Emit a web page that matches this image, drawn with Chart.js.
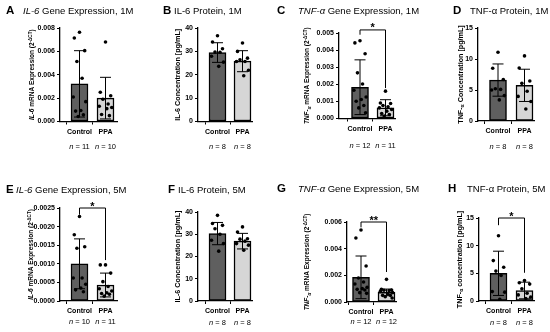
<!DOCTYPE html>
<html><head><meta charset="utf-8">
<script src="https://cdn.jsdelivr.net/npm/chart.js@4.4.1/dist/chart.umd.min.js"></script>
<style>
html,body{margin:0;padding:0;background:#fff;}
#wrap{position:relative;width:550px;height:332px;overflow:hidden;font-family:"Liberation Sans",Arial,sans-serif;color:#000;}
canvas{position:absolute;}
.L{position:absolute;font-weight:bold;font-size:11.5px;line-height:1;white-space:nowrap;}
.t{position:absolute;font-size:9.5px;line-height:1;white-space:nowrap;}
</style></head>
<body><div id="wrap">
<div class="L" style="left:6px;top:5px">A</div><div class="t" style="left:23px;top:6px"><i>IL-6</i> Gene Expression, 1M</div>
<div class="L" style="left:163px;top:5px">B</div><div class="t" style="left:174px;top:6px">IL-6 Protein, 1M</div>
<div class="L" style="left:277px;top:5px">C</div><div class="t" style="left:298px;top:6px"><i>TNF-α</i> Gene Expression, 1M</div>
<div class="L" style="left:453px;top:5px">D</div><div class="t" style="left:470px;top:6px">TNF-α Protein, 1M</div>
<div class="L" style="left:6px;top:184px">E</div><div class="t" style="left:16px;top:185px"><i>IL-6</i> Gene Expression, 5M</div>
<div class="L" style="left:168px;top:184px">F</div><div class="t" style="left:178px;top:185px">IL-6 Protein, 5M</div>
<div class="L" style="left:277px;top:183px">G</div><div class="t" style="left:298px;top:184px"><i>TNF-α</i> Gene Expression, 5M</div>
<div class="L" style="left:448px;top:183px">H</div><div class="t" style="left:467px;top:184px">TNF-α Protein, 5M</div>
</div>
<script>
const groups = ['Control', 'PPA'];

// A: IL-6 gene expression, 1M
const aMean = [0.00322, 0.00200];
const aSD = [0.00284, 0.00178];
const aCtrl = [0.00763, 0.00714, 0.00606, 0.00514, 0.0037, 0.00209, 0.0017, 0.00094, 0.00089, 0.00057, 0.00043];
const aPPA = [0.0068, 0.0025, 0.0022, 0.0019, 0.0015, 0.0013, 0.0012, 0.0011, 0.0006, 0.0005];
const aN = [11, 10];
const aTicks = [0, 0.002, 0.004, 0.006, 0.008];

// B: IL-6 protein, 1M
const bMean = [29.5, 25.8];
const bSD = [4.2, 4.5];
const bCtrl = [36.7, 34.0, 31.1, 29.7, 29.6, 27.9, 25.4, 23.6];
const bPPA = [33.6, 30.0, 27.1, 26.4, 25.7, 25.7, 21.9, 19.6];
const bN = [8, 8];
const bTicks = [0, 10, 20, 30, 40];

// C: TNF-a gene expression, 1M
const cMean = [0.00183, 0.00063];
const cSD = [0.0016, 0.00047];
const cCtrl = [0.00455, 0.00442, 0.00379, 0.00267, 0.00202, 0.00165, 0.00126, 0.00111, 0.00101, 0.00076, 0.00062, 0.00033];
const cPPA = [0.0016, 0.00091, 0.00088, 0.00076, 0.00068, 0.00062, 0.00053, 0.00043, 0.00029, 0.00023, 0.00014];
const cN = [12, 11];
const cTicks = [0, 0.001, 0.002, 0.003, 0.004, 0.005];

// D: TNF-a protein, 1M
const dMean = [6.6, 5.75];
const dSD = [2.6, 2.6];
const dCtrl = [11.1, 8.5, 6.7, 5.2, 5.1, 5.0, 4.1, 3.4];
const dPPA = [10.5, 8.55, 6.45, 6.07, 4.8, 3.97, 3.14, 1.93];
const dN = [8, 8];
const dTicks = [0, 5, 10, 15];

// E: IL-6 gene expression, 5M
const eMean = [0.00100, 0.00043];
const eSD = [0.00067, 0.00032];
const eCtrl = [0.00227, 0.00178, 0.00146, 0.00142, 0.00062, 0.00062, 0.00045, 0.00035, 0.00030, 0.00025];
const ePPA = [0.00097, 0.00097, 0.00075, 0.00052, 0.00039, 0.00033, 0.00027, 0.00022, 0.0002, 0.00018, 0.00013];
const eN = [10, 11];
const eTicks = [0, 0.0005, 0.001, 0.0015, 0.002, 0.0025];

// F: IL-6 protein, 5M
const fMean = [30.3, 26.9];
const fSD = [5.0, 3.5];
const fCtrl = [38.5, 34.8, 34.0, 32.5, 30.0, 27.3, 25.8, 22.4];
const fPPA = [33.3, 31.0, 28.0, 27.8, 26.9, 25.8, 25.1, 22.8];
const fN = [8, 8];
const fTicks = [0, 10, 20, 30, 40];

// G: TNF-a gene expression, 5M
const gMean = [0.00185, 0.00072];
const gSD = [0.0016, 0.00025];
const gCtrl = [0.0054, 0.0048, 0.0027, 0.0018, 0.0015, 0.00135, 0.0011, 0.001, 0.00095, 0.0009, 0.0007, 0.00065];
const gPPA = [0.0017, 0.00095, 0.0009, 0.00088, 0.00085, 0.0008, 0.0007, 0.0006, 0.0005, 0.0005, 0.0004, 0.0003];
const gN = [12, 12];
const gTicks = [0, 0.002, 0.004, 0.006];

// H: TNF-a protein, 5M
const hMean = [5.0, 1.9];
const hSD = [4.0, 1.5];
const hCtrl = [11.8, 7.3, 6.1, 5.4, 4.6, 1.7, 1.6, 0.3];
const hPPA = [3.7, 3.3, 3.05, 2.2, 1.4, 1.1, 0.7, 0.45];
const hN = [8, 8];
const hTicks = [0, 5, 10, 15];

// horizontal spread of the dots inside each bar (layout only)
const JIT = [0, -0.2, 0.2, -0.1, 0.1, -0.24, 0.24, 0.05, -0.15, 0.15, -0.05, 0.22];

const FONT = '"Liberation Sans", Arial, sans-serif';
const geneTitle = (g) => g === 'IL' ?
  [{t:'IL-6', i:1}, {t:' mRNA Expression (2'}, {t:'-ΔCT', sup:1}, {t:')'}] :
  [{t:'TNF-', i:1}, {t:'α', i:1, sub:1}, {t:' mRNA Expression (2'}, {t:'-ΔCT', sup:1}, {t:')'}];

const panels = [
  {x:0, y:0, w:137, h:166, axisX:60, top:28, zero:121.5, right:117, cx0:79.5, cx1:105.5, nY:146, titleX:32, tSize:6.5,
   mean:aMean, sd:aSD, pts:[aCtrl, aPPA], n:aN, ticks:aTicks, dec:3, ytitle:geneTitle('IL')},
  {x:137, y:0, w:137, h:166, axisX:198, top:28, zero:121.5, right:252, cx0:217.5, cx1:242.5, nY:146, titleX:177, tSize:7.2,
   mean:bMean, sd:bSD, pts:[bCtrl, bPPA], n:bN, ticks:bTicks, dec:0, ytitle:[{t:'IL-6 Concentration [pg/mL]'}]},
  {x:274, y:0, w:137, h:166, axisX:339, top:33, zero:118.5, right:395, cx0:360, cx1:385.5, nY:145, titleX:307, tSize:6.5,
   mean:cMean, sd:cSD, pts:[cCtrl, cPPA], n:cN, ticks:cTicks, dec:3, ytitle:geneTitle('TNF'),
   sig:{top:0.00518, l:0.0049, r:0.00178, star:'*'}},
  {x:411, y:0, w:139, h:166, axisX:478, top:28, zero:121, right:534, cx0:498, cx1:524.5, nY:146, titleX:460, tSize:7.2,
   mean:dMean, sd:dSD, pts:[dCtrl, dPPA], n:dN, ticks:dTicks, dec:0,
   ytitle:[{t:'TNF-'}, {t:'α', sub:1}, {t:' Concentration [pg/mL]'}]},
  {x:0, y:166, w:137, h:166, axisX:60, top:208, zero:301, right:117, cx0:79.5, cx1:105.5, nY:321, titleX:31, tSize:6.5,
   mean:eMean, sd:eSD, pts:[eCtrl, ePPA], n:eN, ticks:eTicks, dec:4, ytitle:geneTitle('IL'),
   sig:{top:0.0025, l:0.00232, r:0.0011, star:'*'}},
  {x:137, y:166, w:137, h:166, axisX:198, top:212, zero:301, right:252, cx0:217.5, cx1:242.5, nY:322, titleX:177, tSize:7.2,
   mean:fMean, sd:fSD, pts:[fCtrl, fPPA], n:fN, ticks:fTicks, dec:0, ytitle:[{t:'IL-6 Concentration [pg/mL]'}]},
  {x:274, y:166, w:137, h:166, axisX:347, top:222, zero:302, right:396, cx0:361, cx1:386.5, nY:321, titleX:307, tSize:6.5,
   mean:gMean, sd:gSD, pts:[gCtrl, gPPA], n:gN, ticks:gTicks, dec:3, ytitle:geneTitle('TNF'),
   sig:{top:0.006, l:0.0056, r:0.00225, star:'**'}},
  {x:411, y:166, w:139, h:166, axisX:479, top:218, zero:301, right:534, cx0:498.5, cx1:524.5, nY:322, titleX:459, tSize:7.2,
   mean:hMean, sd:hSD, pts:[hCtrl, hPPA], n:hN, ticks:hTicks, dec:0,
   ytitle:[{t:'TNF-'}, {t:'α', sub:1}, {t:' concentration [pg/mL]'}],
   sig:{top:15, l:13.7, r:5.1, star:'*'}}
];

function drawRich(ctx, segs, cx, cy, size) {
  ctx.save();
  ctx.translate(cx, cy);
  ctx.rotate(-Math.PI / 2);
  const fontOf = s => `${s.i ? 'italic ' : ''}bold ${(s.sup || s.sub) ? size * 0.7 : size}px ${FONT}`;
  let total = 0;
  const ws = segs.map(s => { ctx.font = fontOf(s); const w = ctx.measureText(s.t).width; total += w; return w; });
  let x = -total / 2;
  const base = size * 0.36;
  ctx.fillStyle = '#000';
  ctx.textBaseline = 'alphabetic';
  ctx.textAlign = 'left';
  segs.forEach((s, k) => {
    ctx.font = fontOf(s);
    let y = base;
    if (s.sup) y = base - size * 0.42;
    if (s.sub) y = base + size * 0.18;
    ctx.fillText(s.t, x, y);
    x += ws[k];
  });
  ctx.restore();
}

const wrap = document.getElementById('wrap');

panels.forEach(p => {
  const cv = document.createElement('canvas');
  cv.width = p.w; cv.height = p.h;
  cv.style.left = p.x + 'px'; cv.style.top = p.y + 'px';
  wrap.insertBefore(cv, wrap.firstChild);
  const unit = p.cx1 - p.cx0;
  const xmin = (p.axisX - p.cx0) / unit;
  const xmax = 1 + (p.right - p.cx1) / unit;
  const YW = 27, XH = 14;
  const pad = {left: p.axisX - p.x - YW, top: p.top - p.y, right: p.x + p.w - p.right, bottom: p.y + p.h - p.zero - XH};
  const ymax = p.ticks[p.ticks.length - 1];

  const pointData = [];
  p.pts.forEach((arr, g) => arr.forEach((v, i) => pointData.push({x: g + JIT[i % JIT.length], y: v})));

  const deco = {
    id: 'deco' + p.x + '_' + p.y,
    afterDatasetDraw(chart, args) {
      if (args.index !== 0) return;
      const ctx = chart.ctx, xs = chart.scales.x, ys = chart.scales.y;
      ctx.save();
      ctx.strokeStyle = '#000'; ctx.lineWidth = 1;
      for (let g = 0; g < 2; g++) {
        const px = xs.getPixelForValue(g);
        const t = ys.getPixelForValue(p.mean[g] + p.sd[g]);
        const b = ys.getPixelForValue(Math.max(0, p.mean[g] - p.sd[g]));
        ctx.beginPath();
        ctx.moveTo(px, t); ctx.lineTo(px, b);
        ctx.moveTo(px - 5.5, t); ctx.lineTo(px + 5.5, t);
        ctx.moveTo(px - 5.5, b); ctx.lineTo(px + 5.5, b);
        ctx.stroke();
      }
      ctx.restore();
    },
    afterDraw(chart) {
      const ctx = chart.ctx, xs = chart.scales.x, ys = chart.scales.y;
      ctx.save();
      ctx.fillStyle = '#000';
      ctx.textBaseline = 'alphabetic';
      for (let g = 0; g < 2; g++) {
        const cx = xs.getPixelForValue(g);
        const fi = `italic 7.5px ${FONT}`, fr = `7.5px ${FONT}`;
        ctx.font = fi; const w1 = ctx.measureText('n').width;
        ctx.font = fr; const rest = ' = ' + p.n[g]; const w2 = ctx.measureText(rest).width;
        let x0 = cx - (w1 + w2) / 2;
        const yb = p.nY - p.y + 2.7;
        ctx.font = fi; ctx.fillText('n', x0, yb);
        ctx.font = fr; ctx.fillText(rest, x0 + w1, yb);
      }
      drawRich(ctx, p.ytitle, p.titleX - p.x, (p.top + p.zero) / 2 - p.y, p.tSize);
      if (p.sig) {
        const x0 = xs.getPixelForValue(0), x1 = xs.getPixelForValue(1);
        const yt = ys.getPixelForValue(p.sig.top);
        ctx.strokeStyle = '#000'; ctx.lineWidth = 1;
        ctx.beginPath();
        ctx.moveTo(x0, ys.getPixelForValue(p.sig.l));
        ctx.lineTo(x0, yt); ctx.lineTo(x1, yt);
        ctx.lineTo(x1, ys.getPixelForValue(p.sig.r));
        ctx.stroke();
        ctx.font = `bold 11px ${FONT}`;
        ctx.textAlign = 'center';
        ctx.fillText(p.sig.star, (x0 + x1) / 2, yt + 1.5);
      }
      ctx.restore();
    }
  };

  new Chart(cv, {
    type: 'bar',
    data: {
      datasets: [
        {type: 'bar', order: 1, data: [{x: 0, y: p.mean[0]}, {x: 1, y: p.mean[1]}],
         backgroundColor: ['#5f5f5f', '#d6d6d6'], borderColor: '#000', borderWidth: 1.5,
         borderSkipped: false, barThickness: 17},
        {type: 'scatter', order: 0, data: pointData, pointRadius: 1.8,
         pointBackgroundColor: '#000', pointBorderWidth: 0, pointHoverRadius: 1.8}
      ]
    },
    options: {
      responsive: false, animation: false, devicePixelRatio: 1,
      layout: {padding: pad},
      plugins: {legend: {display: false}, tooltip: {enabled: false}, title: {display: false}},
      events: [],
      scales: {
        x: {
          type: 'linear', min: xmin, max: xmax, offset: false,
          afterBuildTicks: s => { s.ticks = [{value: 0}, {value: 1}]; },
          afterFit: s => { s.height = XH; },
          ticks: {callback: v => groups[Math.round(v)], color: '#000', font: {family: FONT, size: 7, weight: 'bold'},
                  padding: 3, maxRotation: 0, autoSkip: false},
          grid: {drawOnChartArea: false, tickLength: 3, color: '#000', lineWidth: 1},
          border: {color: '#000', width: 1.3}
        },
        y: {
          min: 0, max: ymax,
          afterBuildTicks: s => { s.ticks = p.ticks.map(v => ({value: v})); },
          afterFit: s => { s.width = YW; },
          ticks: {callback: v => Number(v).toFixed(p.dec), color: '#000', font: {family: FONT, size: 7, weight: 'bold'}, padding: 2},
          grid: {drawOnChartArea: false, tickLength: 3, color: '#000', lineWidth: 1},
          border: {color: '#000', width: 1.3}
        }
      }
    },
    plugins: [deco]
  });
});
</script>
</body></html>
